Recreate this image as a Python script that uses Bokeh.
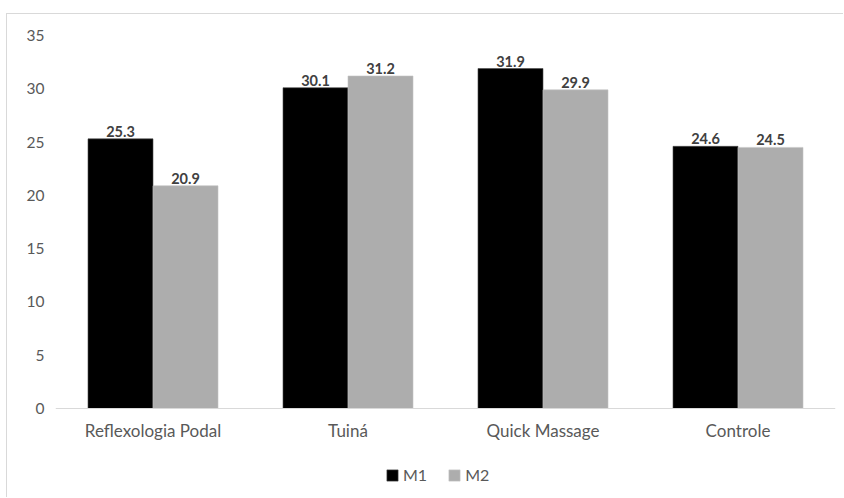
from bokeh.plotting import figure
from bokeh.models import (ColumnDataSource, FactorRange, Range1d, Legend, LegendItem,
                          FixedTicker, Span)
from bokeh.transform import dodge
from bokeh.core.properties import value
from bokeh.embed import file_html
from bokeh.resources import INLINE

categories = ["Reflexologia Podal", "Tuiná", "Quick Massage", "Controle"]
m1 = [25.3, 30.1, 31.9, 24.6]
m2 = [20.9, 31.2, 29.9, 24.5]
y_ticks = [0, 5, 10, 15, 20, 25, 30, 35]
y_max = 35

FONT = "Lato"

# plot geometry (pixels): value axis spans 373 px; 90 px of room below zero
AXIS_PX = 373
BELOW_PX = 90
y_min = -BELOW_PX * y_max / AXIS_PX

src = ColumnDataSource(dict(
    cat=categories,
    zero=[0] * len(categories),
    m1=m1,
    m2=m2,
    m1_lbl=[f"{v:.1f}" for v in m1],
    m2_lbl=[f"{v:.1f}" for v in m2],
))

p = figure(width=837, height=484, output_backend="svg", toolbar_location=None,
           x_range=FactorRange(*categories, range_padding=0),
           y_range=Range1d(y_min, y_max),
           min_border_left=48, min_border_right=9,
           min_border_top=21, min_border_bottom=0)

# chart area border (top and left edges visible)
p.styles = {"margin-left": "6px", "margin-top": "13px",
            "border-left": "1px solid #d9d9d9", "border-top": "1px solid #d9d9d9"}

p.outline_line_color = None
p.background_fill_color = "white"
p.border_fill_color = "white"
p.xgrid.visible = False
p.ygrid.visible = False
p.xaxis.visible = False

bw = 1 / 3
r1 = p.vbar(x=dodge("cat", -bw / 2, range=p.x_range), top="m1", width=bw, source=src,
            fill_color="#000000", line_color="#4a4a4a", line_width=0.6)
r2 = p.vbar(x=dodge("cat", bw / 2, range=p.x_range), top="m2", width=bw, source=src,
            fill_color="#adadad", line_color="#c4c4c4", line_width=0.6)

# value labels above bars
for off, ycol, lbl in ((-bw / 2, "m1", "m1_lbl"), (bw / 2, "m2", "m2_lbl")):
    p.text(x=dodge("cat", off, range=p.x_range), y=ycol,
           text=lbl, source=src, text_align="center", text_baseline="bottom",
           y_offset=-2, text_font=value(FONT), text_font_size="14.5px",
           text_font_style="bold", text_color="#404040")

# category baseline and labels
p.add_layout(Span(location=0, dimension="width", line_color="#d9d9d9", line_width=1))
p.text(x="cat", y="zero", text="cat", source=src, text_align="center",
       text_baseline="alphabetic", y_offset=22, text_font=value(FONT),
       text_font_size="17px", text_color="#595959")

# y axis: labels only
p.yaxis.ticker = FixedTicker(ticks=y_ticks)
p.yaxis.axis_line_color = None
p.yaxis.major_tick_line_color = None
p.yaxis.major_tick_out = 0
p.yaxis.major_tick_in = 0
p.yaxis.minor_tick_line_color = None
p.yaxis.major_label_text_font = FONT
p.yaxis.major_label_text_font_size = "15.5px"
p.yaxis.major_label_text_color = "#595959"
p.yaxis.major_label_standoff = 11

legend = Legend(items=[LegendItem(label="M1", renderers=[r1]),
                       LegendItem(label="M2", renderers=[r2])],
                orientation="horizontal", location=(330, 14),
                label_text_font=FONT, label_text_font_size="16px",
                label_text_color="#595959", glyph_width=14, glyph_height=14,
                spacing=20, label_standoff=4, padding=0, margin=0,
                border_line_color=None, background_fill_alpha=0)
p.add_layout(legend, "center")

open("out.html", "w").write(file_html(p, INLINE))
